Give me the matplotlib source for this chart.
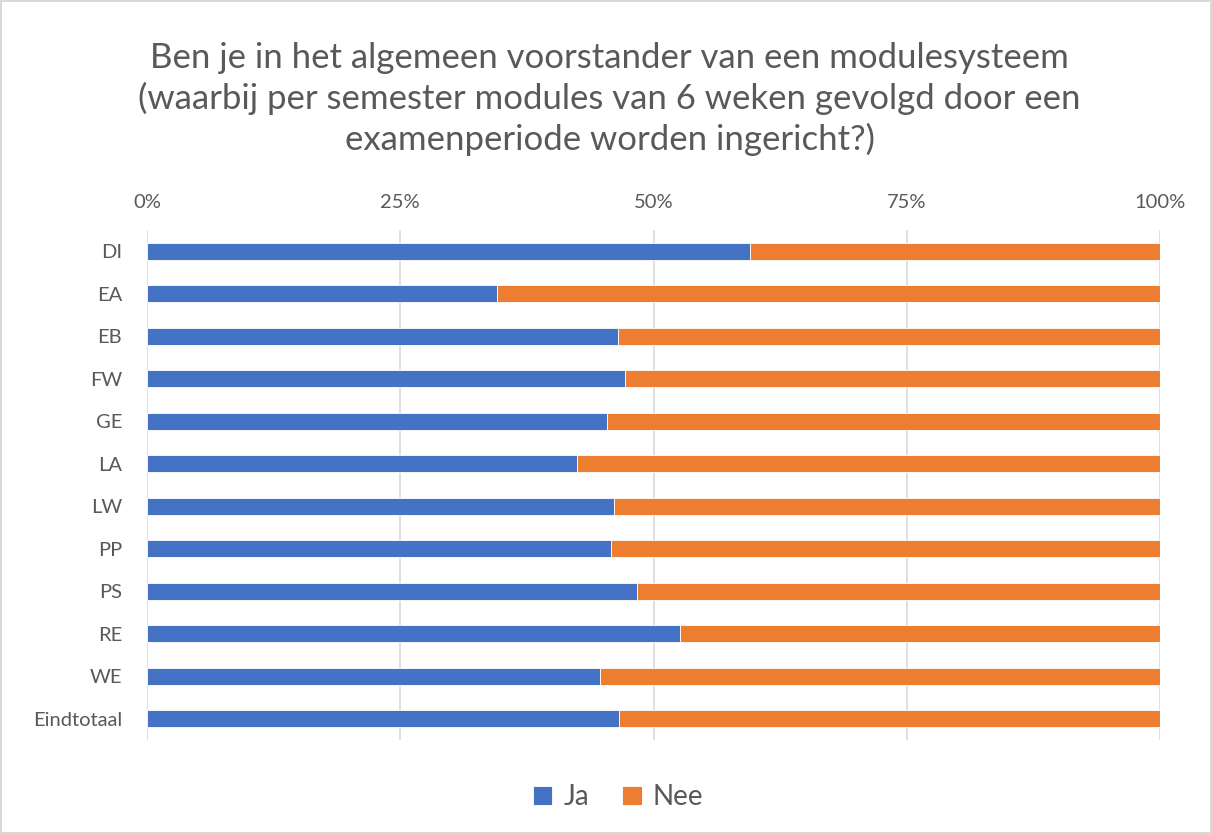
import matplotlib.pyplot as plt
import numpy as np

categories = ['DI', 'EA', 'EB', 'FW', 'GE', 'LA', 'LW', 'PP', 'PS', 'RE', 'WE', 'Eindtotaal']
ja = [59.5, 34.6, 46.5, 47.2, 45.4, 42.4, 46.1, 45.8, 48.4, 52.6, 44.7, 46.6]
nee = [100 - v for v in ja]
xticks = [0, 25, 50, 75, 100]

plt.rcParams['font.family'] = ['Lato', 'DejaVu Sans']
grey = '#595959'

fig = plt.figure(figsize=(12.12, 8.34), dpi=100)
fig.patch.set_edgecolor('#d9d9d9')
fig.patch.set_linewidth(1.5)
ax = fig.add_axes([147 / 1212, 1 - 740 / 834, (1160 - 147) / 1212, 510 / 834])

y = np.arange(len(categories))
ax.barh(y, ja, height=0.41, color='#4472c4', edgecolor='white', linewidth=0.6, label='Ja', zorder=3)
ax.barh(y, nee, left=ja, height=0.41, color='#ed7d31', edgecolor='white', linewidth=0.6, label='Nee', zorder=3)

ax.set_ylim(len(categories) - 0.5, -0.5)
ax.set_xlim(0, 100)
ax.set_yticks(y)
ax.set_yticklabels(categories, fontsize=14.5, color=grey)
ax.set_xticks(xticks)
ax.set_xticklabels([f'{t}%' for t in xticks], fontsize=14.5, color=grey)
ax.xaxis.tick_top()
ax.tick_params(length=0, axis='both')
ax.tick_params(axis='x', pad=14)
ax.tick_params(axis='y', pad=18)
ax.grid(axis='x', color='#d9d9d9', linewidth=1.2, zorder=0)
for s in ax.spines.values():
    s.set_visible(False)

fig.text(0.503, 1 - 99 / 834,
         'Ben je in het algemeen voorstander van een modulesysteem\n'
         '(waarbij per semester modules van 6 weken gevolgd door een\n'
         'examenperiode worden ingericht?)',
         ha='center', va='center', fontsize=25, color=grey, linespacing=1.3)

ax.legend(loc='center', bbox_to_anchor=(0.465, -0.112), ncol=2, frameon=False,
          fontsize=20, labelcolor=grey, handlelength=0.7, handleheight=0.7,
          handletextpad=0.4, columnspacing=1.2)

fig.savefig('out.png', dpi=100)
